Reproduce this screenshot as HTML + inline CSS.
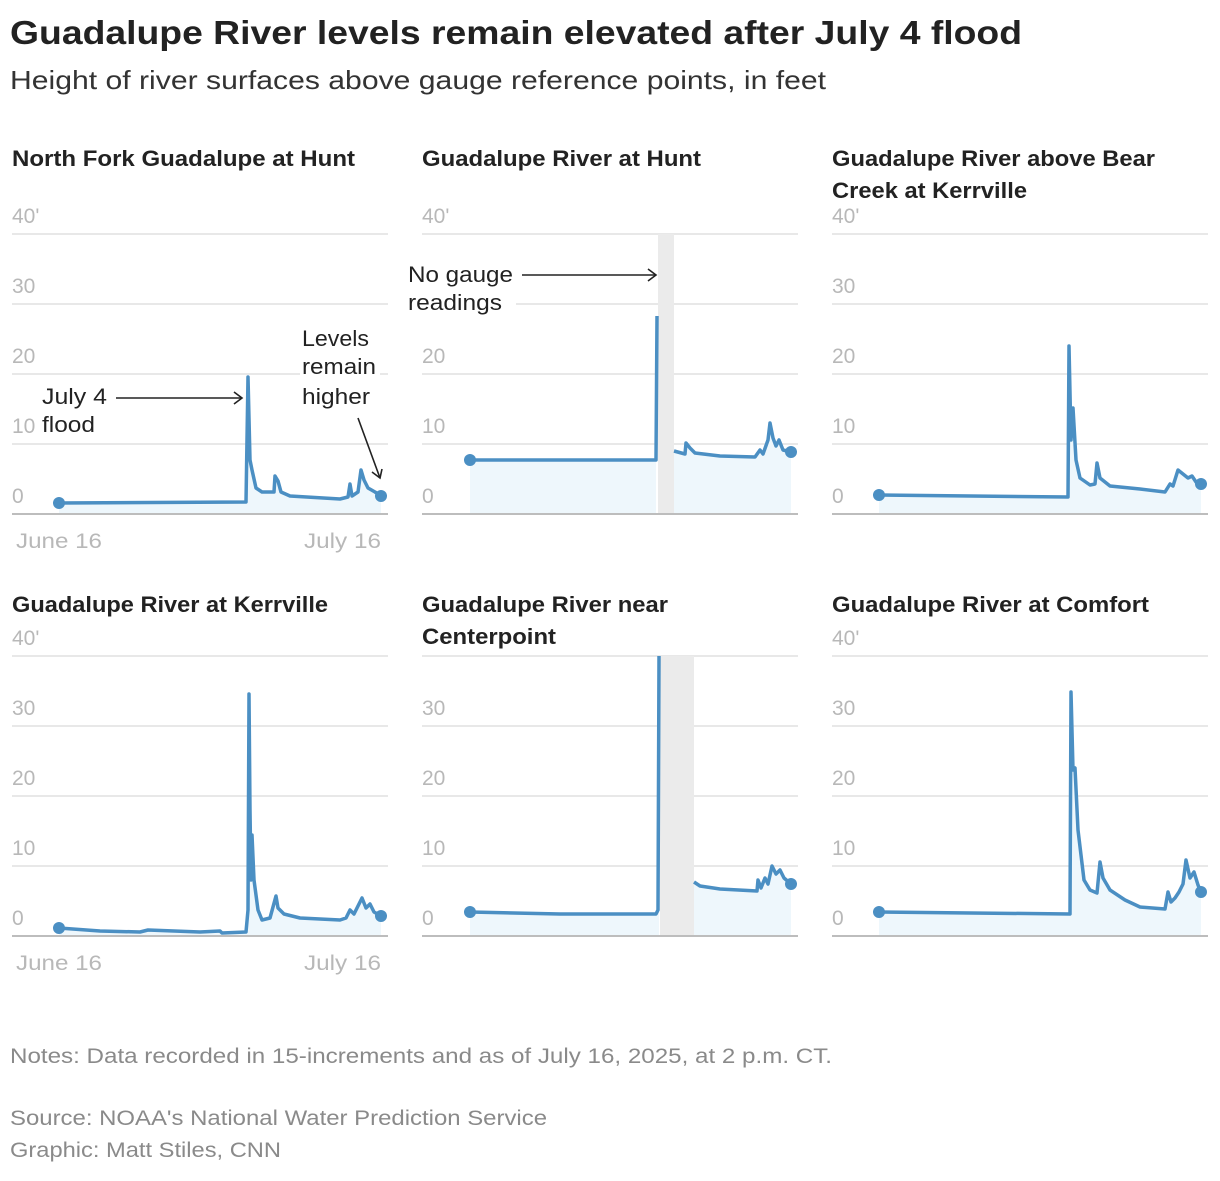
<!DOCTYPE html>
<html><head><meta charset="utf-8"><style>
body{margin:0;background:#fff;width:1220px;height:1176px;overflow:hidden}
svg text{font-family:"Liberation Sans",sans-serif}
.t{font-size:22px;font-weight:bold;fill:#222}
.k{font-size:21px;fill:#b8b8b8}
.a{font-size:22px;fill:#222}
.n{font-size:21px;fill:#8a8a8a}
.g{stroke:#e8e8e8;stroke-width:2}
.b{stroke:#bdbdbd;stroke-width:2}
.l{fill:none;stroke:#4b8fc3;stroke-width:3.5;stroke-linejoin:round}
.f{fill:#eef7fc;stroke:none}
</style></head><body>
<svg width="1220" height="1176" xmlns="http://www.w3.org/2000/svg">
<text x="10" y="44" textLength="1012" lengthAdjust="spacingAndGlyphs" style="font-size:33px;font-weight:bold;fill:#222">Guadalupe River levels remain elevated after July 4 flood</text>
<text x="10" y="89" textLength="816" lengthAdjust="spacingAndGlyphs" style="font-size:26px;fill:#333">Height of river surfaces above gauge reference points, in feet</text>

<g>
<line class="g" x1="12" x2="388" y1="234" y2="234"/><line class="g" x1="12" x2="388" y1="304" y2="304"/><line class="g" x1="12" x2="388" y1="374" y2="374"/><line class="g" x1="12" x2="388" y1="444" y2="444"/>
<line class="g" x1="422" x2="798" y1="234" y2="234"/><line class="g" x1="422" x2="798" y1="304" y2="304"/><line class="g" x1="422" x2="798" y1="374" y2="374"/><line class="g" x1="422" x2="798" y1="444" y2="444"/>
<line class="g" x1="832" x2="1208" y1="234" y2="234"/><line class="g" x1="832" x2="1208" y1="304" y2="304"/><line class="g" x1="832" x2="1208" y1="374" y2="374"/><line class="g" x1="832" x2="1208" y1="444" y2="444"/>
<line class="g" x1="12" x2="388" y1="656" y2="656"/><line class="g" x1="12" x2="388" y1="726" y2="726"/><line class="g" x1="12" x2="388" y1="796" y2="796"/><line class="g" x1="12" x2="388" y1="866" y2="866"/>
<line class="g" x1="422" x2="798" y1="656" y2="656"/><line class="g" x1="422" x2="798" y1="726" y2="726"/><line class="g" x1="422" x2="798" y1="796" y2="796"/><line class="g" x1="422" x2="798" y1="866" y2="866"/>
<line class="g" x1="832" x2="1208" y1="656" y2="656"/><line class="g" x1="832" x2="1208" y1="726" y2="726"/><line class="g" x1="832" x2="1208" y1="796" y2="796"/><line class="g" x1="832" x2="1208" y1="866" y2="866"/>
</g>
<g class="k">
<text x="12" y="223" class="k">40'</text><text x="12" y="293" class="k">30</text><text x="12" y="363" class="k">20</text><text x="12" y="433" class="k">10</text><text x="12" y="503" class="k">0</text>
<text x="422" y="223" class="k">40'</text><text x="422" y="363" class="k">20</text><text x="422" y="433" class="k">10</text><text x="422" y="503" class="k">0</text>
<text x="832" y="223" class="k">40'</text><text x="832" y="293" class="k">30</text><text x="832" y="363" class="k">20</text><text x="832" y="433" class="k">10</text><text x="832" y="503" class="k">0</text>
<text x="12" y="645" class="k">40'</text><text x="12" y="715" class="k">30</text><text x="12" y="785" class="k">20</text><text x="12" y="855" class="k">10</text><text x="12" y="925" class="k">0</text>
<text x="422" y="715" class="k">30</text><text x="422" y="785" class="k">20</text><text x="422" y="855" class="k">10</text><text x="422" y="925" class="k">0</text>
<text x="832" y="645" class="k">40'</text><text x="832" y="715" class="k">30</text><text x="832" y="785" class="k">20</text><text x="832" y="855" class="k">10</text><text x="832" y="925" class="k">0</text>
<text x="16" y="548" class="k" textLength="86" lengthAdjust="spacingAndGlyphs">June 16</text><text x="304" y="548" class="k" textLength="77" lengthAdjust="spacingAndGlyphs">July 16</text>
<text x="16" y="970" class="k" textLength="86" lengthAdjust="spacingAndGlyphs">June 16</text><text x="304" y="970" class="k" textLength="77" lengthAdjust="spacingAndGlyphs">July 16</text>
</g>

<rect x="658" y="234" width="16" height="280" fill="#ebebeb"/>
<rect x="660" y="656" width="34" height="280" fill="#ebebeb"/>

<path class="f" d="M59,503 L246,502 248,377 250,460 252,470 256,488 262,492 274,492 275,476 278,481 281,492 290,496 340,499 348,497 350,484 352,496 358,492 361,470 364,480 368,488 375,492 381,496 381,514 59,514Z"/>
<path class="f" d="M470,460 L656,460 656,514 470,514Z M674,451 L685,454 686,443 690,448 695,453 720,456 755,457 760,450 763,454 768,440 770,423 773,438 776,446 779,440 783,450 791,452 791,514 674,514Z"/>
<path class="f" d="M879,495 L1068,497 1069,346 1071,440 1073,408 1076,460 1080,478 1090,485 1095,484 1097,463 1100,478 1105,482 1110,486 1140,489 1165,492 1170,484 1173,486 1178,470 1183,474 1188,478 1192,476 1196,482 1201,484 1201,514 879,514Z"/>
<path class="f" d="M59,928 L100,931 140,932 148,930 200,932 220,931 222,933 246,932 248,910 249,694 250,810 251,880 252,835 254,880 258,910 262,920 270,918 276,896 278,908 284,914 300,918 340,920 346,918 350,910 354,914 362,898 366,908 370,904 374,912 381,916 381,936 59,936Z"/>
<path class="f" d="M470,912 L560,914 656,914 658,910 659,656 659,936 470,936Z M694,882 L700,886 720,889 757,891 758,880 761,888 765,878 768,884 772,866 776,874 780,870 784,878 791,884 791,936 694,936Z"/>
<path class="f" d="M879,912 L1070,914 1071,692 1073,770 1075,768 1078,830 1084,880 1090,890 1097,893 1100,862 1103,878 1110,890 1125,900 1140,907 1165,909 1168,892 1171,902 1175,898 1179,892 1183,884 1186,860 1190,878 1194,872 1198,885 1201,892 1201,936 879,936Z"/>

<line class="b" x1="12" x2="388" y1="514" y2="514"/><line class="b" x1="422" x2="798" y1="514" y2="514"/><line class="b" x1="832" x2="1208" y1="514" y2="514"/>
<line class="b" x1="12" x2="388" y1="936" y2="936"/><line class="b" x1="422" x2="798" y1="936" y2="936"/><line class="b" x1="832" x2="1208" y1="936" y2="936"/>

<path class="l" d="M59,503 L246,502 248,377 250,460 252,470 256,488 262,492 274,492 275,476 278,481 281,492 290,496 340,499 348,497 350,484 352,496 358,492 361,470 364,480 368,488 375,492 381,496"/>
<path class="l" d="M470,460 L656,460 657,316"/>
<path class="l" d="M674,451 L685,454 686,443 690,448 695,453 720,456 755,457 760,450 763,454 768,440 770,423 773,438 776,446 779,440 783,450 791,452"/>
<path class="l" d="M879,495 L1068,497 1069,346 1071,440 1073,408 1076,460 1080,478 1090,485 1095,484 1097,463 1100,478 1105,482 1110,486 1140,489 1165,492 1170,484 1173,486 1178,470 1183,474 1188,478 1192,476 1196,482 1201,484"/>
<path class="l" d="M59,928 L100,931 140,932 148,930 200,932 220,931 222,933 246,932 248,910 249,694 250,810 251,880 252,835 254,880 258,910 262,920 270,918 276,896 278,908 284,914 300,918 340,920 346,918 350,910 354,914 362,898 366,908 370,904 374,912 381,916"/>
<path class="l" d="M470,912 L560,914 656,914 658,910 659,656"/>
<path class="l" d="M694,882 L700,886 720,889 757,891 758,880 761,888 765,878 768,884 772,866 776,874 780,870 784,878 791,884"/>
<path class="l" d="M879,912 L1070,914 1071,692 1073,770 1075,768 1078,830 1084,880 1090,890 1097,893 1100,862 1103,878 1110,890 1125,900 1140,907 1165,909 1168,892 1171,902 1175,898 1179,892 1183,884 1186,860 1190,878 1194,872 1198,885 1201,892"/>

<g fill="#4b8fc3">
<circle cx="59" cy="503" r="6"/><circle cx="381" cy="496" r="6"/>
<circle cx="470" cy="460" r="6"/><circle cx="791" cy="452" r="6"/>
<circle cx="879" cy="495" r="6"/><circle cx="1201" cy="484" r="6"/>
<circle cx="59" cy="928" r="6"/><circle cx="381" cy="916" r="6"/>
<circle cx="470" cy="912" r="6"/><circle cx="791" cy="884" r="6"/>
<circle cx="879" cy="912" r="6"/><circle cx="1201" cy="892" r="6"/>
</g>

<rect x="40" y="382" width="68" height="58" fill="#fff"/>
<text class="a" x="42" y="404" textLength="65" lengthAdjust="spacingAndGlyphs">July 4</text><text class="a" x="42" y="432" textLength="53" lengthAdjust="spacingAndGlyphs">flood</text>
<line x1="116" y1="398" x2="242" y2="398" stroke="#222" stroke-width="1.6"/>
<path d="M234,392 L242,398 234,404" fill="none" stroke="#222" stroke-width="1.6"/>
<rect x="300" y="322" width="80" height="88" fill="#fff"/>
<text class="a" x="302" y="346" textLength="67" lengthAdjust="spacingAndGlyphs">Levels</text><text class="a" x="302" y="374" textLength="74" lengthAdjust="spacingAndGlyphs">remain</text><text class="a" x="302" y="404" textLength="68" lengthAdjust="spacingAndGlyphs">higher</text>
<line x1="358" y1="418" x2="380" y2="478" stroke="#222" stroke-width="1.6"/>
<path d="M372,472 L380,478 382,469" fill="none" stroke="#222" stroke-width="1.6"/>
<rect x="406" y="262" width="110" height="52" fill="#fff"/>
<text class="a" x="408" y="282" textLength="105" lengthAdjust="spacingAndGlyphs">No gauge</text><text class="a" x="408" y="310" textLength="94" lengthAdjust="spacingAndGlyphs">readings</text>
<line x1="522" y1="275" x2="656" y2="275" stroke="#222" stroke-width="1.6"/>
<path d="M648,269 L656,275 648,281" fill="none" stroke="#222" stroke-width="1.6"/>

<text class="t" x="12" y="166" textLength="343" lengthAdjust="spacingAndGlyphs">North Fork Guadalupe at Hunt</text>
<text class="t" x="422" y="166" textLength="279" lengthAdjust="spacingAndGlyphs">Guadalupe River at Hunt</text>
<text class="t" x="832" y="166" textLength="323" lengthAdjust="spacingAndGlyphs">Guadalupe River above Bear</text>
<text class="t" x="832" y="198" textLength="195" lengthAdjust="spacingAndGlyphs">Creek at Kerrville</text>
<text class="t" x="12" y="612" textLength="316" lengthAdjust="spacingAndGlyphs">Guadalupe River at Kerrville</text>
<text class="t" x="422" y="612" textLength="246" lengthAdjust="spacingAndGlyphs">Guadalupe River near</text>
<text class="t" x="422" y="644" textLength="134" lengthAdjust="spacingAndGlyphs">Centerpoint</text>
<text class="t" x="832" y="612" textLength="317" lengthAdjust="spacingAndGlyphs">Guadalupe River at Comfort</text>

<text class="n" x="10" y="1063" textLength="822" lengthAdjust="spacingAndGlyphs">Notes: Data recorded in 15-increments and as of July 16, 2025, at 2 p.m. CT.</text>
<text class="n" x="10" y="1125" textLength="537" lengthAdjust="spacingAndGlyphs">Source: NOAA's National Water Prediction Service</text>
<text class="n" x="10" y="1157" textLength="271" lengthAdjust="spacingAndGlyphs">Graphic: Matt Stiles, CNN</text>
</svg>
</body></html>
